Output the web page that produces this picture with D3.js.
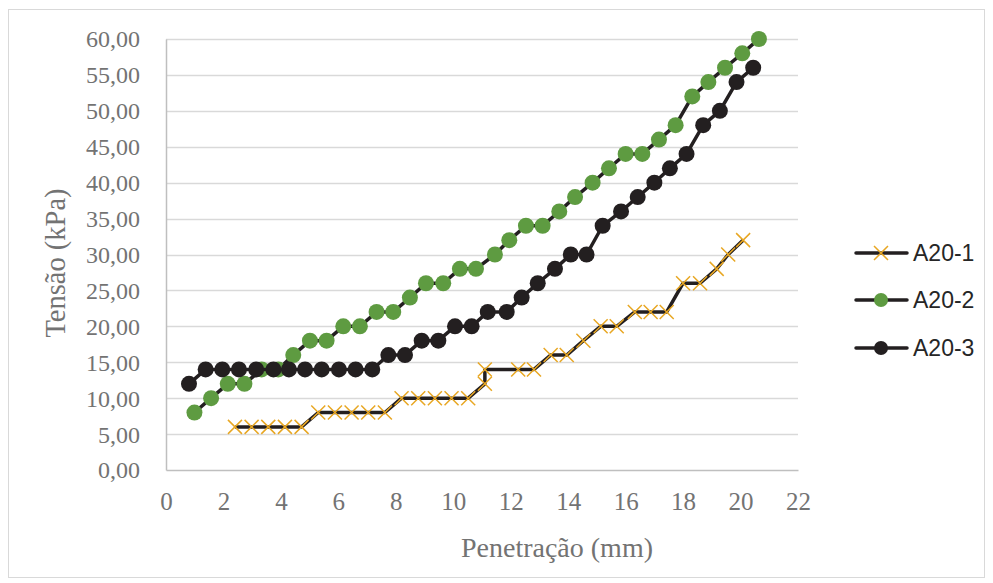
<!DOCTYPE html>
<html><head><meta charset="utf-8">
<script src="https://cdn.jsdelivr.net/npm/d3@7"></script>
<style>html,body{margin:0;padding:0;background:#fff;}</style>
</head><body>
<svg id="chart" width="993" height="583"></svg>
<script>
const seriesNames = ["A20-1", "A20-2", "A20-3"];
const a201X = [2.40, 2.98, 3.56, 4.14, 4.72, 5.30, 5.88, 6.46, 7.04, 7.62, 8.20, 8.78, 9.36, 9.94, 10.52, 11.10, 11.10, 12.26, 12.81, 13.39, 13.95, 14.53, 15.13, 15.69, 16.32, 16.87, 17.43, 18.00, 18.59, 19.17, 19.57, 20.09];
const a201Y = [6, 6, 6, 6, 6, 8, 8, 8, 8, 8, 10, 10, 10, 10, 10, 12, 14, 14, 14, 16, 16, 18, 20, 20, 22, 22, 22, 26, 26, 28, 30, 32];
const a202X = [0.99, 1.57, 2.15, 2.73, 3.33, 3.91, 4.43, 5.01, 5.59, 6.17, 6.75, 7.33, 7.91, 8.49, 9.05, 9.65, 10.23, 10.79, 11.45, 11.95, 12.53, 13.11, 13.69, 14.24, 14.85, 15.42, 16.00, 16.58, 17.16, 17.74, 18.32, 18.88, 19.46, 20.06, 20.64];
const a202Y = [8, 10, 12, 12, 14, 14, 16, 18, 18, 20, 20, 22, 22, 24, 26, 26, 28, 28, 30, 32, 34, 34, 36, 38, 40, 42, 44, 44, 46, 48, 52, 54, 56, 58, 60];
const a203X = [0.80, 1.38, 1.96, 2.54, 3.14, 3.74, 4.28, 4.84, 5.42, 6.02, 6.60, 7.18, 7.74, 8.32, 8.90, 9.48, 10.06, 10.64, 11.20, 11.86, 12.38, 12.94, 13.54, 14.09, 14.64, 15.20, 15.84, 16.42, 17.00, 17.54, 18.12, 18.70, 19.28, 19.86, 20.44];
const a203Y = [12, 14, 14, 14, 14, 14, 14, 14, 14, 14, 14, 14, 16, 16, 18, 18, 20, 20, 22, 22, 24, 26, 28, 30, 30, 34, 36, 38, 40, 42, 44, 48, 50, 54, 56];
const xTicks = [0, 2, 4, 6, 8, 10, 12, 14, 16, 18, 20, 22];
const yTicks = [0, 5, 10, 15, 20, 25, 30, 35, 40, 45, 50, 55, 60];
const xTitle = "Penetração (mm)";
const yTitle = "Tensão (kPa)";

const svg = d3.select("#chart");
const m = {left: 166, right: 798, top: 39, bottom: 470};
const x = d3.scaleLinear().domain([0, 22]).range([m.left, m.right]);
const y = d3.scaleLinear().domain([0, 60]).range([m.bottom, m.top]);
const loc = d3.formatLocale({decimal: ",", thousands: ".", grouping: [3], currency: ["", ""]});
const fmt = loc.format(".2f");

svg.append("rect").attr("x", 8.5).attr("y", 9.5).attr("width", 976).attr("height", 568)
  .attr("fill", "#fff").attr("stroke", "#d9d9d9").attr("stroke-width", 1);

// gridlines
svg.append("g").selectAll("line").data(yTicks.filter(d => d > 0)).join("line")
  .attr("x1", m.left).attr("x2", m.right)
  .attr("y1", d => Math.round(y(d)) + 0.5).attr("y2", d => Math.round(y(d)) + 0.5)
  .attr("stroke", "#d9d9d9").attr("stroke-width", 1.5);

// axes
const yAxis = d3.axisLeft(y).tickValues(yTicks).tickFormat(fmt).tickSize(0).tickPadding(26);
const gy = svg.append("g").attr("transform", `translate(${m.left},0)`).call(yAxis);
gy.select(".domain").attr("stroke", "#bfbfbf").attr("stroke-width", 1.5);
gy.selectAll("text").attr("font-family", "Liberation Serif, Times New Roman, serif")
  .attr("font-size", 24).attr("fill", "#737373").attr("dy", "0.33em");

const xAxis = d3.axisBottom(x).tickValues(xTicks).tickFormat(d3.format("d")).tickSize(0).tickPadding(22);
const gx = svg.append("g").attr("transform", `translate(0,${m.bottom})`).call(xAxis);
gx.select(".domain").attr("stroke", "#bfbfbf").attr("stroke-width", 1.5);
gx.selectAll("text").attr("font-family", "Liberation Serif, Times New Roman, serif")
  .attr("font-size", 25).attr("fill", "#737373");

// titles
svg.append("text").attr("x", 557).attr("y", 557).attr("text-anchor", "middle")
  .attr("font-family", "Liberation Serif, Times New Roman, serif").attr("font-size", 28)
  .attr("fill", "#737373").text(xTitle);
svg.append("text").attr("transform", "translate(65,263) rotate(-90)").attr("text-anchor", "middle")
  .attr("font-family", "Liberation Serif, Times New Roman, serif").attr("font-size", 28.5)
  .attr("fill", "#737373").text(yTitle);

const lineColor = "#231f20";
const line = d3.line().x(d => x(d[0])).y(d => y(d[1]));
const s1 = a201X.map((v, i) => [v, a201Y[i]]);
const s2 = a202X.map((v, i) => [v, a202Y[i]]);
const s3 = a203X.map((v, i) => [v, a203Y[i]]);

function crossPath(cx, cy, r) {
  return `M${cx - r},${cy - r}L${cx + r},${cy + r}M${cx - r},${cy + r}L${cx + r},${cy - r}`;
}

// series 1
svg.append("path").datum(s1).attr("d", line).attr("fill", "none")
  .attr("stroke", lineColor).attr("stroke-width", 3.5).attr("stroke-linejoin", "round");
svg.append("g").selectAll("path").data(s1).join("path")
  .attr("d", d => crossPath(x(d[0]), y(d[1]), 7))
  .attr("stroke", "#e8a723").attr("stroke-width", 1.5).attr("fill", "none");

// series 2
svg.append("path").datum(s2).attr("d", line).attr("fill", "none")
  .attr("stroke", lineColor).attr("stroke-width", 3.5).attr("stroke-linejoin", "round");
svg.append("g").selectAll("circle").data(s2).join("circle")
  .attr("cx", d => x(d[0])).attr("cy", d => y(d[1])).attr("r", 8).attr("fill", "#5e9b41");

// series 3
svg.append("path").datum(s3).attr("d", line).attr("fill", "none")
  .attr("stroke", lineColor).attr("stroke-width", 3.5).attr("stroke-linejoin", "round");
svg.append("g").selectAll("circle").data(s3).join("circle")
  .attr("cx", d => x(d[0])).attr("cy", d => y(d[1])).attr("r", 8).attr("fill", lineColor);

// legend
const legY = [253, 300, 348];
const lg = svg.append("g");
seriesNames.forEach((name, i) => {
  const yy = legY[i];
  lg.append("line").attr("x1", 856).attr("x2", 907).attr("y1", yy).attr("y2", yy)
    .attr("stroke", lineColor).attr("stroke-width", 3.5).attr("stroke-linecap", "round");
  if (i === 0) {
    lg.append("path").attr("d", crossPath(881, yy, 7)).attr("stroke", "#e8a723").attr("stroke-width", 1.5);
  } else {
    lg.append("circle").attr("cx", 881).attr("cy", yy).attr("r", 7)
      .attr("fill", i === 1 ? "#5e9b41" : lineColor);
  }
  lg.append("text").attr("x", 913).attr("y", yy + 8).attr("font-family", "Liberation Sans, Arial, sans-serif")
    .attr("font-size", 23).attr("fill", "#262626").text(name);
});
</script>
</body></html>
